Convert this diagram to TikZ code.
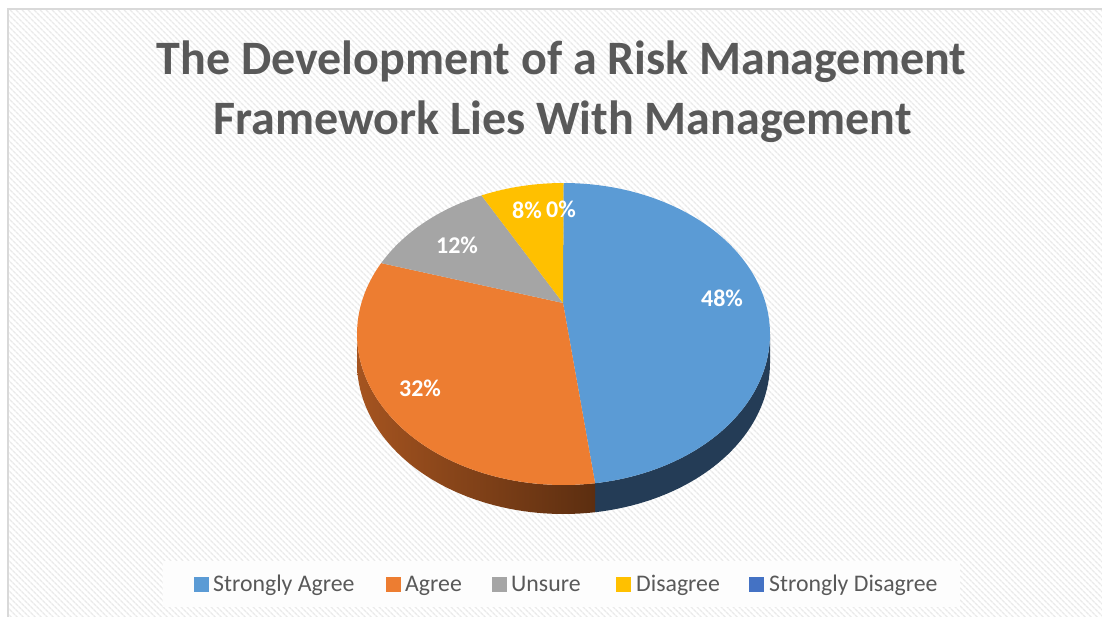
\documentclass[tikz,border=0pt]{standalone}
\usepackage{fontspec}
\setmainfont{Carlito}
\usetikzlibrary{patterns.meta}
\definecolor{cblue}{HTML}{5B9BD5}
\definecolor{corange}{HTML}{ED7D31}
\definecolor{cgray}{HTML}{A5A5A5}
\definecolor{cyellow}{HTML}{FFC000}
\definecolor{cdblue}{HTML}{4472C4}
\definecolor{sideblue}{RGB}{36,60,86}
\definecolor{sideorangeL}{RGB}{165,84,32}
\definecolor{sideorangeR}{RGB}{92,46,16}
\definecolor{txtgray}{HTML}{595959}
\definecolor{stripe}{RGB}{234,234,234}
\definecolor{framegray}{RGB}{217,217,217}
\definecolor{legendbg}{RGB}{253,253,253}
\tikzset{
  titletext/.style={font=\fontsize{48}{58}\selectfont\bfseries, text=txtgray, inner sep=0pt, anchor=base},
  pctlabel/.style={font=\fontsize{24}{28}\selectfont\bfseries, text=white, inner sep=0pt},
  legtext/.style={font=\fontsize{23.8}{28}\selectfont, text=txtgray, inner sep=0pt, anchor=base west},
  legkey/.style={minimum size=15pt, inner sep=0pt, draw=none},
}
\begin{document}
\begin{tikzpicture}[x=1pt,y=-1pt]
\useasboundingbox (0,0) rectangle (1102,617);
\fill[white] (0,0) rectangle (1102,617);
\fill[pattern={Lines[angle=-45,distance=4pt,line width=1.6pt]}, pattern color=stripe] (8,9) rectangle (1102,617);
\draw[framegray, line width=2pt] (8,617) -- (8,9) -- (1102,9);

% title
\node[titletext] (t1) at (561.5,75) {The Development of a Risk Management};
\node[titletext] (t2) at (562.5,135) {Framework Lies With Management};

% pie geometry
\def\cx{563.5}\def\cy{334}\def\rx{206.5}\def\ry{151}\def\dep{29}
\coordinate (v) at (563,303);

% sides
\fill[sideblue] plot[domain=0:81.2,samples=40] ({\cx+\rx*cos(\x)},{\cy+\ry*sin(\x)})
  -- plot[domain=81.2:0,samples=40] ({\cx+\rx*cos(\x)},{\cy+\dep+\ry*sin(\x)}) -- cycle;
\shade[left color=sideorangeL, right color=sideorangeR] plot[domain=81.2:180,samples=50] ({\cx+\rx*cos(\x)},{\cy+\ry*sin(\x)})
  -- plot[domain=180:81.2,samples=50] ({\cx+\rx*cos(\x)},{\cy+\dep+\ry*sin(\x)}) -- cycle;

% top slices
\fill[cblue] (v) -- plot[domain=-90:81.2,samples=90] ({\cx+\rx*cos(\x)},{\cy+\ry*sin(\x)}) -- cycle;
\fill[corange] (v) -- plot[domain=81.2:208,samples=70] ({\cx+\rx*cos(\x)},{\cy+\ry*sin(\x)}) -- cycle;
\fill[cgray] (v) -- plot[domain=208:246.6,samples=25] ({\cx+\rx*cos(\x)},{\cy+\ry*sin(\x)}) -- cycle;
\fill[cyellow] (v) -- plot[domain=246.6:270,samples=20] ({\cx+\rx*cos(\x)},{\cy+\ry*sin(\x)}) -- cycle;

% labels
\node[pctlabel] (l48) at (722,298) {48\%};
\node[pctlabel] (l32) at (420,388) {32\%};
\node[pctlabel] (l12) at (457,245) {12\%};
\node[pctlabel] (l8) at (527,210) {8\%};
\node[pctlabel] (l0) at (561,209) {0\%};

% legend
\node[fill=legendbg, minimum width=797pt, minimum height=46pt, inner sep=0pt] (legend) at (561.5,584) {};
\node[legkey, fill=cblue] (k1) at (201.5,584.5) {};
\node[legtext] (e1) at (213,591) {Strongly Agree};
\node[legkey, fill=corange] (k2) at (393,584.5) {};
\node[legtext] (e2) at (405,591) {Agree};
\node[legkey, fill=cgray] (k3) at (499,584.5) {};
\node[legtext] (e3) at (511,591) {Unsure};
\node[legkey, fill=cyellow] (k4) at (623.5,584.5) {};
\node[legtext] (e4) at (636,591) {Disagree};
\node[legkey, fill=cdblue] (k5) at (756.5,584.5) {};
\node[legtext] (e5) at (769,591) {Strongly Disagree};
\end{tikzpicture}
\end{document}
